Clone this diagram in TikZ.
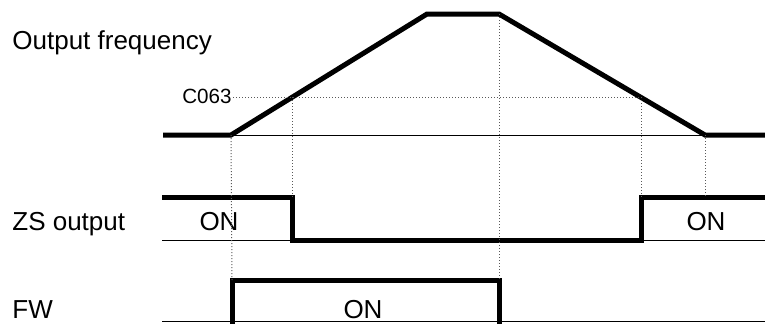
\documentclass[tikz,border=0pt]{standalone}
\usepackage{fontspec}
\setmainfont{Liberation Sans}
\usetikzlibrary{positioning}
\tikzset{
  wave/.style={line width=2.5pt,line join=miter},
  base/.style={line width=0.5pt},
  guide/.style={densely dotted,line width=0.5pt,black!65},
  lbl/.style={font=\fontsize{13}{15}\selectfont,inner sep=0pt},
  small/.style={font=\fontsize{10.3}{12}\selectfont,inner sep=0pt},
}

\begin{document}
\begin{tikzpicture}[x=0.5pt,y=-0.5pt]
  \useasboundingbox (0,0) rectangle (765,323);
  % signal names
  \node[lbl,anchor=base west] (freqlbl) at (12,49) {Output frequency};
  \node[lbl,anchor=base west] (zslbl) at (12,230) {ZS output};
  \node[lbl,anchor=base west] (fwlbl) at (12,318) {FW};
  \node[small,anchor=base east] (c063) at (232,103) {C063};
  % output frequency
  \coordinate (f0) at (163,135);
  \coordinate (fa) at (231,135);
  \coordinate (fb) at (427,14);
  \coordinate (fc) at (499,14);
  \coordinate (fd) at (705,135);
  \coordinate (fe) at (765,135);
  \coordinate (lv) at (233,97);
  \coordinate (up) at (292,97);
  \coordinate (dn) at (641,97);
  \draw[base] (fa) -- (fe);
  \draw[wave] (f0) -- (fa) -- (fb) -- (fc) -- (fd) -- (fe);
  % ZS output
  \coordinate (z0) at (162,197);
  \coordinate (z1) at (292,197);
  \coordinate (z2) at (292,240);
  \coordinate (z3) at (641,240);
  \coordinate (z4) at (641,197);
  \coordinate (z5) at (765,197);
  \coordinate (zr) at (705,197);
  \coordinate (zb) at (162,240);
  \coordinate (ze) at (765,240);
  \draw[base] (zb) -- (ze);
  \draw[wave] (z0) -- (z1) -- (z2) -- (z3) -- (z4) -- (z5);
  \node[lbl,anchor=base] (zson1) at (219,230) {ON};
  \node[lbl,anchor=base] (zson2) at (706,230) {ON};
  % FW
  \coordinate (w0) at (232,324);
  \coordinate (w1) at (232,280);
  \coordinate (w2) at (499,280);
  \coordinate (w3) at (499,324);
  \coordinate (wb) at (162,321.5);
  \coordinate (we) at (765,321.5);
  \draw[base] (wb) -- (we);
  \draw[wave] (w0) -- (w1) -- (w2) -- (w3);
  \node[lbl,anchor=base] (fwon) at (363,318) {ON};
  % timing guides
  \draw[guide] (lv) -- (dn);
  \draw[guide] (fa) -- (w1);
  \draw[guide] (up) -- (z1);
  \draw[guide] (fc) -- (w2);
  \draw[guide] (dn) -- (z4);
  \draw[guide] (fd) -- (zr);
\end{tikzpicture}
\end{document}
